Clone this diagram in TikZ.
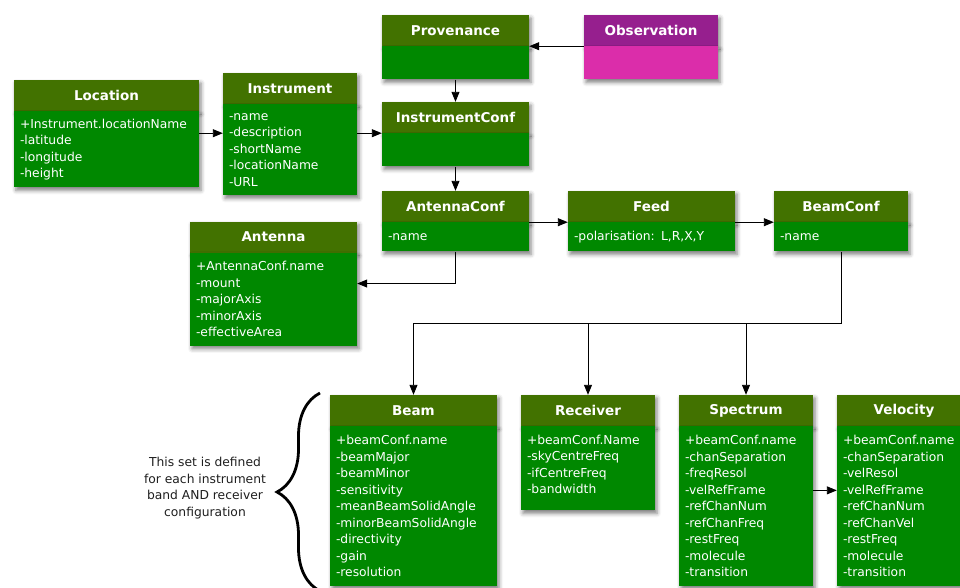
\documentclass[tikz,border=0pt]{standalone}
\usepackage{fontspec}
\setmainfont{DejaVu Sans}
\usepackage{tikz}
\usetikzlibrary{arrows.meta,positioning,calc,shadows.blur,decorations.pathreplacing}
\definecolor{hdrgreen}{RGB}{66,114,0}
\definecolor{bodygreen}{RGB}{0,136,0}
\definecolor{hdrpurple}{RGB}{150,31,142}
\definecolor{bodypink}{RGB}{219,45,170}
\definecolor{notegray}{RGB}{30,30,30}

\begin{document}
\begin{tikzpicture}[x=1pt,y=-1pt,
    cls/.style={fill=hdrgreen, text=white, font=\fontsize{13.5}{16}\selectfont\bfseries, align=center, inner xsep=6pt, inner ysep=0pt, minimum height=31pt, blur shadow={shadow xshift=2pt, shadow yshift=-3pt, shadow blur radius=4pt, shadow opacity=50}},
    att/.style={fill=bodygreen, text=white, font=\fontsize{12.3}{16.5}\selectfont, align=left, inner xsep=6pt, inner ysep=0pt, blur shadow={shadow xshift=2pt, shadow yshift=-3pt, shadow blur radius=4pt, shadow opacity=50}},
    note/.style={text=notegray, font=\fontsize{12.3}{16.7}\selectfont, align=center},
    arr/.style={-{Triangle[length=10pt,width=8pt]}, line width=0.9pt}
    ]
    %cadre
\useasboundingbox (0,0) rectangle (960,587);

    %top row
    \node[cls, text width=135pt] (provenance)        at (455.5,30.5) {Provenance};
    \node[att, text width=135pt, minimum height=33pt, below=0pt of provenance] (provenanceatt) {};
    \node[cls, fill=hdrpurple, text width=122pt] (observation) at (651,30.5) {Observation};
    \node[att, fill=bodypink, text width=122pt, minimum height=33pt, below=0pt of observation] (observationatt) {};

    \node[cls, text width=173pt] (location)          at (106.5,95.5) {Location};
    \node[att, text width=173pt, minimum height=76pt, below=0pt of location] (locationatt) {+Instrument.locationName\\-latitude\\-longitude\\-height};
    \node[cls, text width=122pt] (instrument)        at (290,88.5) {Instrument};
    \node[att, text width=122pt, minimum height=91pt, below=0pt of instrument] (instrumentatt) {-name\\-description\\-shortName\\-locationName\\-URL};
    \node[cls, text width=135pt] (instconf)          at (455.5,117.5) {InstrumentConf};
    \node[att, text width=135pt, minimum height=33pt, below=0pt of instconf] (instconfatt) {};

    %conf row
    \node[cls, text width=135pt] (antconf)           at (455.5,206.5) {AntennaConf};
    \node[att, text width=135pt, minimum height=29pt, below=0pt of antconf] (antconfatt) {-name};
    \node[cls, text width=155pt] (antenna)           at (273.5,237) {Antenna};
    \node[att, text width=155pt, minimum height=93pt, below=0pt of antenna] (antennaatt) {+AntennaConf.name\\-mount\\-majorAxis\\-minorAxis\\-effectiveArea};
    \node[cls, text width=155pt] (feed)              at (651.5,206.5) {Feed};
    \node[att, text width=155pt, minimum height=29pt, below=0pt of feed] (feedatt) {-polarisation: L,R,X,Y};
    \node[cls, text width=122pt] (beamconf)          at (841,206.5) {BeamConf};
    \node[att, text width=122pt, minimum height=29pt, below=0pt of beamconf] (beamconfatt) {-name};

    %band set
    \node[cls, text width=155pt] (beam)              at (413.5,410.5) {Beam};
    \node[att, text width=155pt, minimum height=160pt, below=0pt of beam] (beamatt) {+beamConf.name\\-beamMajor\\-beamMinor\\-sensitivity\\-meanBeamSolidAngle\\-minorBeamSolidAngle\\-directivity\\-gain\\-resolution};
    \node[cls, text width=122pt] (receiver)          at (588,410.5) {Receiver};
    \node[att, text width=122pt, minimum height=84pt, below=0pt of receiver] (receiveratt) {+beamConf.Name\\-skyCentreFreq\\-ifCentreFreq\\-bandwidth\\[-8pt]\mbox{}};
    \node[cls, text width=122pt] (spectrum)          at (746,410.5) {Spectrum};
    \node[att, text width=122pt, minimum height=160pt, below=0pt of spectrum] (spectrumatt) {+beamConf.name\\-chanSeparation\\-freqResol\\-velRefFrame\\-refChanNum\\-refChanFreq\\-restFreq\\-molecule\\-transition};
    \node[cls, text width=122pt] (velocity)          at (904,410.5) {Velocity};
    \node[att, text width=122pt, minimum height=160pt, below=0pt of velocity] (velocityatt) {+beamConf.name\\-chanSeparation\\-velResol\\-velRefFrame\\-refChanNum\\-refChanVel\\-restFreq\\-molecule\\-transition};

    \node[note] (setnote) at (205,488) {This set is defined\\for each instrument\\band AND receiver\\configuration};
    \draw[line width=2.8pt, decorate, decoration={brace, amplitude=43pt, aspect=0.5}] (320,591) -- (320,393);

    %links
    \draw[arr] (observation.south west) -- (provenance.south east);
    \draw[arr] (provenanceatt.south) -- (instconf.north);
    \draw[arr] (locationatt.east |- instconf.south) -- (instrumentatt.west |- instconf.south);
    \draw[arr] (instrumentatt.east |- instconf.south) -- (instconf.south west);
    \draw[arr] (instconfatt.south) -- (antconf.north);
    \draw[arr] (antconf.south east) -- (feed.south west);
    \draw[arr] (feed.south east) -- (beamconf.south west);
    \draw[arr] (antconfatt.south) |- ($(antennaatt.north east)!0.33!(antennaatt.south east)$);
    \coordinate (bus) at ($(beamconfatt.south)+(0,72)$);
    \draw[line width=0.9pt] (beamconfatt.south) -- (bus);
    \draw[arr] (bus) -| (beam.north);
    \draw[arr] (bus -| receiver.north) -- (receiver.north);
    \draw[arr] (bus -| spectrum.north) -- (spectrum.north);
    \draw[arr] ($(spectrumatt.north east)!0.4!(spectrumatt.south east)$) -- ($(velocityatt.north west)!0.4!(velocityatt.south west)$);
\end{tikzpicture}
\end{document}
